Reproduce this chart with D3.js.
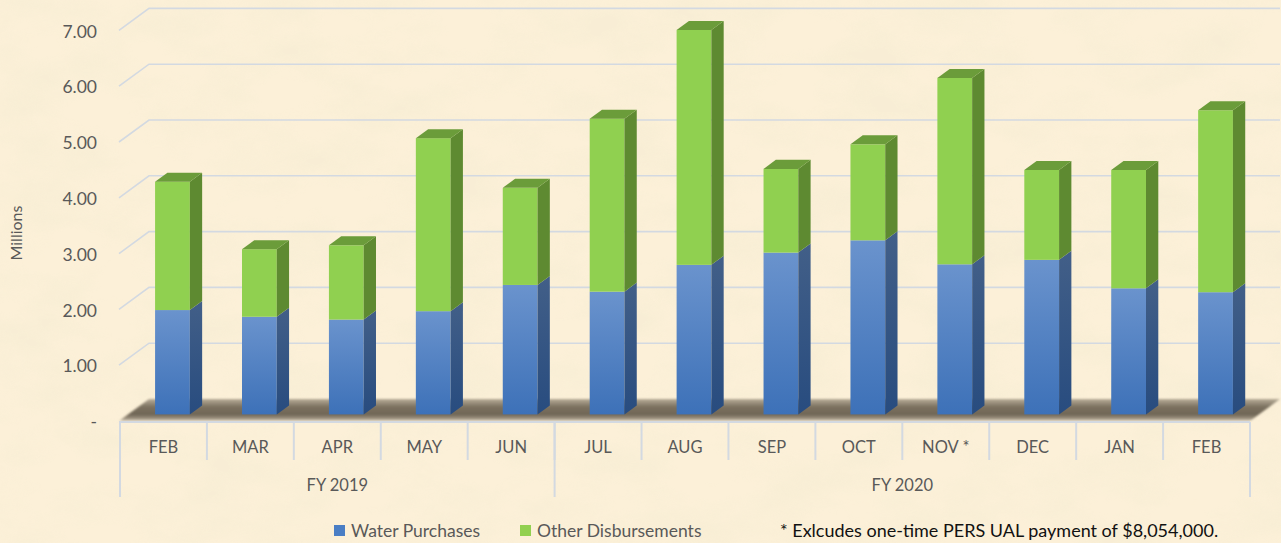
<!DOCTYPE html>
<html>
<head>
<meta charset="utf-8">
<script src="https://cdn.jsdelivr.net/npm/d3@7"></script>
<style>
  html, body { margin: 0; padding: 0; background: #fbf0d7; }
  svg { display: block; font-family: Lato, "Open Sans", sans-serif; }
</style>
</head>
<body>
<script>
// chart data (millions)
var months = ["FEB", "MAR", "APR", "MAY", "JUN", "JUL", "AUG", "SEP", "OCT", "NOV *", "DEC", "JAN", "FEB"]
var waterPurchases = [1.87, 1.75, 1.70, 1.85, 2.32, 2.20, 2.68, 2.90, 3.12, 2.69, 2.77, 2.26, 2.19]
var otherDisbursements = [2.30, 1.21, 1.33, 3.10, 1.74, 3.10, 4.21, 1.50, 1.72, 3.34, 1.61, 2.12, 3.26]
var fiscalYears = ["FY 2019", "FY 2020"]
var fiscalYearMonths = [5, 8]
var yTicks = [0, 1, 2, 3, 4, 5, 6, 7]
var seriesNames = ["Water Purchases", "Other Disbursements"]
var footnote = "* Exlcudes one-time PERS UAL payment of $8,054,000."

var width = 1281, height = 543
var depthX = 30, depthY = 22      // projection of the floor depth
var barFront = 0.3, barBack = 0.71 // where the bars sit in depth

var svg = d3.select("body").append("svg")
    .attr("width", width)
    .attr("height", height)

var defs = svg.append("defs")

// parchment texture
var paper = defs.append("filter").attr("id", "paper")
    .attr("x", 0).attr("y", 0).attr("width", "100%").attr("height", "100%")
paper.append("feTurbulence")
    .attr("type", "fractalNoise")
    .attr("baseFrequency", "0.012 0.022")
    .attr("numOctaves", 4)
    .attr("seed", 7)
paper.append("feColorMatrix")
    .attr("type", "matrix")
    .attr("values", "0 0 0 0 0.93  0 0 0 0 0.85  0 0 0 0 0.66  2.6 0 0 0 -1.0")

var floorBlur = defs.append("filter").attr("id", "floorBlur")
floorBlur.append("feGaussianBlur").attr("stdDeviation", 1.2)

var floorGrad = defs.append("linearGradient").attr("id", "floorGrad")
    .attr("gradientUnits", "userSpaceOnUse")
    .attr("x1", 0).attr("x2", 0).attr("y1", 399).attr("y2", 421)
floorGrad.append("stop").attr("offset", 0).attr("stop-color", "#b8ad98")
floorGrad.append("stop").attr("offset", 0.35).attr("stop-color", "#7c7261")
floorGrad.append("stop").attr("offset", 0.7).attr("stop-color", "#706655")
floorGrad.append("stop").attr("offset", 0.9).attr("stop-color", "#a09582")
floorGrad.append("stop").attr("offset", 1).attr("stop-color", "#dbd2c1")

var blueFront = defs.append("linearGradient").attr("id", "blueFront")
    .attr("x1", 0).attr("x2", 0).attr("y1", 0).attr("y2", 1)
blueFront.append("stop").attr("offset", 0).attr("stop-color", "#6a93cd")
blueFront.append("stop").attr("offset", 1).attr("stop-color", "#3d71b8")

var blueSide = defs.append("linearGradient").attr("id", "blueSide")
    .attr("x1", 0).attr("x2", 0).attr("y1", 0).attr("y2", 1)
blueSide.append("stop").attr("offset", 0).attr("stop-color", "#425f88")
blueSide.append("stop").attr("offset", 1).attr("stop-color", "#284c7f")

svg.append("rect").attr("width", width).attr("height", height).attr("fill", "#fcf0d8")
svg.append("rect").attr("width", width).attr("height", height)
    .attr("filter", "url(#paper)").attr("opacity", 0.75)

var x = d3.scaleBand()
    .domain(d3.range(months.length))
    .range([120, 1250])
    .paddingInner(0.6)
    .paddingOuter(0.3)

var y = d3.scaleLinear()
    .domain([0, 7])
    .range([421, 30.4])

function proj(px, py, d) {
    return [px + depthX * d, py - depthY * d]
}

// gridlines: short diagonal at the left, then along the back wall
svg.append("g").selectAll("path")
    .data(yTicks.slice(1))
    .enter().append("path")
    .attr("fill", "none")
    .attr("stroke", "#d3d9e1")
    .attr("stroke-width", 1.6)
    .attr("d", function(v) {
        var a = proj(119, y(v), 0), b = proj(119, y(v), 1), c = proj(1250, y(v), 1)
        return "M" + a + "L" + b + "L" + c
    })

// floor with shadow
var floorPts = [proj(119, y(0), 0), proj(1250, y(0), 0), proj(1250, y(0), 1), proj(119, y(0), 1)]
svg.append("polygon")
    .attr("points", floorPts.join(" "))
    .attr("fill", "url(#floorGrad)")
    .attr("filter", "url(#floorBlur)")

// y labels
svg.append("g").selectAll("text")
    .data(yTicks)
    .enter().append("text")
    .attr("x", 97)
    .attr("y", function(v) { return y(v) + 1 })
    .attr("dy", "0.35em")
    .attr("text-anchor", "end")
    .attr("font-size", 17.5)
    .attr("fill", "#595959")
    .text(function(v) { return v === 0 ? "-" : d3.format(".2f")(v) })

svg.append("text")
    .attr("transform", "translate(16,233) rotate(-90)")
    .attr("text-anchor", "middle")
    .attr("dy", "0.35em")
    .attr("font-size", 16)
    .attr("fill", "#595959")
    .text("Millions")

// stacked 3d bars
var stack = months.map(function(m, i) {
    return [
        {i: i, y0: 0, y1: waterPurchases[i], s: 0},
        {i: i, y0: waterPurchases[i], y1: waterPurchases[i] + otherDisbursements[i], s: 1}
    ]
})

var bars = svg.append("g").selectAll("g")
    .data(stack)
    .enter().append("g")

var sideFill = ["url(#blueSide)", "#5e8a31"]
var frontFill = ["url(#blueFront)", "#90d050"]

stack.forEach(function(segs, k) {
    var g = d3.select(bars.nodes()[k])
    segs.forEach(function(s) {
        var xl = x(s.i), xr = x(s.i) + x.bandwidth()
        var yt = y(s.y1), yb = y(s.y0)
        var fl = proj(xl, yt, barFront), fr = proj(xr, yb, barFront)
        var tr = proj(xr, yt, barFront)
        var dxB = depthX * (barBack - barFront), dyB = depthY * (barBack - barFront)
        g.append("rect")
            .attr("x", fl[0]).attr("y", fl[1])
            .attr("width", fr[0] - fl[0]).attr("height", fr[1] - fl[1])
            .attr("fill", frontFill[s.s])
        g.append("polygon")
            .attr("points", [[fr[0], fr[1]], [fr[0] + dxB, fr[1] - dyB], [tr[0] + dxB, tr[1] - dyB], [tr[0], tr[1]]].join(" "))
            .attr("fill", sideFill[s.s])
        if (s.s === 1) {
            g.append("polygon")
                .attr("points", [[fl[0], fl[1]], [tr[0], tr[1]], [tr[0] + dxB, tr[1] - dyB], [fl[0] + dxB, fl[1] - dyB]].join(" "))
                .attr("fill", "#6b9c3a")
        }
    })
})

// category axis with the two level grouping
var axis = svg.append("g").attr("stroke", "#d3d9e1").attr("stroke-width", 2)
axis.append("line").attr("x1", 119).attr("x2", 1250).attr("y1", 422).attr("y2", 422)

var bounds = d3.range(months.length + 1).map(function(i) { return 120 + i * x.step() })
axis.selectAll(".tick")
    .data(bounds)
    .enter().append("line")
    .attr("x1", function(d) { return d }).attr("x2", function(d) { return d })
    .attr("y1", 422).attr("y2", 460)

var groupBounds = [0, fiscalYearMonths[0], months.length]
axis.selectAll(".gtick")
    .data(groupBounds)
    .enter().append("line")
    .attr("x1", function(i) { return bounds[i] }).attr("x2", function(i) { return bounds[i] })
    .attr("y1", 422).attr("y2", 497)

svg.append("g").selectAll("text")
    .data(months)
    .enter().append("text")
    .attr("x", function(m, i) { return bounds[i] + x.step() / 2 })
    .attr("y", 447)
    .attr("dy", "0.35em")
    .attr("text-anchor", "middle")
    .attr("font-size", 16.5)
    .attr("fill", "#595959")
    .text(function(m) { return m })

svg.append("g").selectAll("text")
    .data(fiscalYears)
    .enter().append("text")
    .attr("x", function(f, i) { return (bounds[groupBounds[i]] + bounds[groupBounds[i + 1]]) / 2 })
    .attr("y", 485)
    .attr("dy", "0.35em")
    .attr("text-anchor", "middle")
    .attr("font-size", 16.5)
    .attr("fill", "#595959")
    .text(function(f) { return f })

// legend
var legendX = [334, 520]
var legendFill = ["#4a7ec4", "#92d050"]
var legend = svg.append("g").selectAll("g")
    .data(seriesNames)
    .enter().append("g")
    .attr("transform", function(d, i) { return "translate(" + legendX[i] + ",525)" })
legend.append("rect")
    .attr("width", 11).attr("height", 11)
    .attr("fill", function(d, i) { return legendFill[i] })
legend.append("text")
    .attr("x", 17).attr("y", 6)
    .attr("dy", "0.35em")
    .attr("font-size", 17.5)
    .attr("fill", "#595959")
    .text(function(d) { return d })

svg.append("text")
    .attr("x", 780).attr("y", 531)
    .attr("dy", "0.35em")
    .attr("font-size", 18)
    .attr("fill", "#111")
    .text(footnote)
</script>
</body>
</html>
